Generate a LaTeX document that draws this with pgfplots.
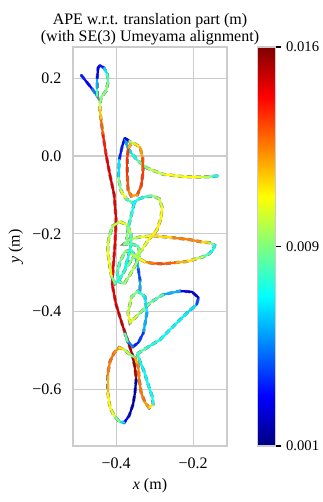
\documentclass[border=0pt]{standalone}
\usepackage{fontspec}
\setmainfont{Liberation Serif}
\usepackage{pgfplots}
\usepackage{pgfplotstable}
\pgfplotsset{compat=1.18}

% trajectory pieces: x, y (m) and APE (m)
\pgfplotstableread{
x y c
-0.491 0.208 0.00325
-0.478 0.192 0.0028
-0.462 0.172 0.00475
-0.449 0.154 0.00775
-0.449 0.174 0.0055
-0.449 0.200 0.0028
-0.447 0.226 0.0025
-0.442 0.233 0.00325
-0.431 0.226 0.00625
-0.423 0.210 0.00775
-0.421 0.190 0.0085
-0.426 0.167 0.0085
-0.439 0.151 0.0085
-0.442 0.133 0.0100
-0.442 0.118 0.0112
-0.439 0.092 0.0127
-0.434 0.054 0.01375
-0.426 0.003 0.0145
-0.416 -0.049 0.0148
-0.405 -0.100 0.0145
-0.400 -0.164 0.0142
-0.403 -0.228 0.0145
-0.408 -0.292 0.0142
-0.410 -0.331 0.0145
-0.400 -0.382 0.0148
-0.384 -0.433 0.0150
-0.369 -0.477 0.01525
-0.358 -0.510 0.0156
-0.351 -0.544 0.01525
-0.348 -0.574 0.00175
-0.351 -0.608 0.0015
-0.356 -0.638 0.00175
-0.366 -0.667 0.0028
-0.379 -0.685 0.00625
-0.392 -0.682 0.0085
-0.405 -0.667 0.0100
-0.416 -0.646 0.0105
-0.422 -0.605 0.0115
-0.422 -0.562 0.01225
-0.416 -0.528 0.01255
-0.405 -0.505 0.01195
-0.392 -0.492 0.01075
-0.379 -0.497 0.00925
-0.364 -0.510 0.0085
-0.351 -0.518 0.0115
-0.343 -0.536 0.01225
-0.340 -0.574 0.0124
-0.335 -0.608 0.0124
-0.325 -0.633 0.0118
-0.314 -0.647 0.01075
-0.304 -0.638 0.0070
-0.306 -0.618 0.0067
-0.317 -0.587 0.0067
-0.327 -0.554 0.00655
-0.338 -0.528 0.0070
-0.345 -0.508 0.00775
}\segA

\pgfplotstableread{
x y c
-0.345 -0.508 0.00775
-0.319 -0.492 0.0070
-0.286 -0.472 0.0067
-0.252 -0.438 0.00655
-0.216 -0.403 0.00625
-0.191 -0.382 0.0040
-0.186 -0.364 0.0022
-0.203 -0.349 0.0025
-0.234 -0.347 0.0055
-0.278 -0.356 0.00775
-0.312 -0.377 0.0085
-0.345 -0.410 0.0097
-0.364 -0.428 0.0100
-0.369 -0.403 0.00925
-0.360 -0.362 0.0085
-0.343 -0.347 0.0073
-0.325 -0.362 0.00625
-0.320 -0.403 0.0055
-0.329 -0.454 0.0037
-0.342 -0.479 0.00325
-0.356 -0.490 0.00475
-0.370 -0.477 0.00775
-0.377 -0.456 0.0100
}\segB

\pgfplotstableread{
x y c
-0.338 -0.346 0.0055
-0.338 -0.318 0.0040
-0.343 -0.287 0.0055
-0.348 -0.262 0.0070
-0.361 -0.241 0.0085
-0.377 -0.246 0.0085
-0.390 -0.272 0.00775
-0.397 -0.300 0.0073
-0.392 -0.323 0.0082
-0.379 -0.328 0.0088
-0.364 -0.305 0.00925
-0.348 -0.277 0.0088
-0.338 -0.251 0.0085
-0.343 -0.231 0.00775
-0.361 -0.226 0.0082
-0.379 -0.226 0.0085
-0.364 -0.214 0.00925
-0.338 -0.208 0.0100
-0.304 -0.205 0.0109
-0.252 -0.210 0.01225
-0.208 -0.215 0.0121
-0.177 -0.221 0.0109
-0.156 -0.223 0.0085
-0.144 -0.229 0.0067
-0.148 -0.241 0.0067
-0.158 -0.251 0.00775
-0.174 -0.259 0.00925
-0.195 -0.265 0.01075
-0.216 -0.271 0.0115
-0.247 -0.274 0.0127
-0.278 -0.277 0.0130
-0.304 -0.276 0.01225
-0.325 -0.272 0.0103
-0.343 -0.262 0.00925
-0.361 -0.251 0.0085
}\segC

\pgfplotstableread{
x y c
-0.377 0.046 0.0025
-0.384 0.026 0.00325
-0.392 -0.010 0.00625
-0.394 -0.056 0.0085
-0.387 -0.090 0.0100
-0.374 -0.110 0.00775
-0.356 -0.121 0.0067
-0.340 -0.110 0.0070
-0.322 -0.104 0.00775
-0.304 -0.103 0.0088
-0.288 -0.110 0.0097
-0.281 -0.131 0.0103
-0.283 -0.159 0.0106
-0.294 -0.190 0.0106
-0.316 -0.215 0.0100
-0.333 -0.241 0.00925
-0.356 -0.262 0.0085
-0.374 -0.287 0.0073
-0.390 -0.315 0.0070
-0.403 -0.328 0.0082
-0.412 -0.308 0.0100
-0.418 -0.274 0.0103
-0.422 -0.241 0.0097
-0.419 -0.208 0.0088
-0.408 -0.179 0.00925
-0.390 -0.169 0.0100
-0.371 -0.177 0.00925
-0.361 -0.200 0.00775
-0.362 -0.231 0.0070
-0.369 -0.262 0.0067
-0.377 -0.287 0.0070
}\segD

\pgfplotstableread{
x y c
-0.353 -0.121 0.0067
-0.359 -0.146 0.0073
-0.368 -0.182 0.0085
-0.373 -0.215 0.0082
}\segE

\pgfplotstableread{
x y c
-0.135 -0.051 0.0070
-0.156 -0.053 0.00925
-0.182 -0.054 0.0103
-0.226 -0.053 0.0103
-0.278 -0.047 0.0094
-0.320 -0.031 0.0082
-0.346 -0.010 0.0070
-0.361 0.008 0.00625
-0.371 0.023 0.0055
-0.377 0.046 0.0025
-0.366 0.038 0.00925
-0.351 0.031 0.01075
-0.338 0.023 0.0118
-0.331 -0.005 0.0130
-0.330 -0.041 0.0133
-0.335 -0.077 0.0130
-0.345 -0.100 0.0118
-0.361 -0.103 0.01225
-0.369 -0.087 0.0130
-0.371 -0.049 0.01345
-0.371 -0.005 0.0133
-0.368 0.021 0.0115
-0.361 0.031 0.0100
}\segF

\pgfplotsset{
  ref/.style={color=gray, line width=2.4pt, dash pattern=on 4pt off 2.5pt},
  est/.style={mesh, shader=flat corner, point meta=explicit, line width=1.7pt,
    line cap=round, line join=round},
}

\begin{document}
\begin{tikzpicture}
\begin{axis}[name=main, scale only axis, width=115.5pt, height=299.25pt,
  xmin=-0.512, xmax=-0.112, ymin=-0.745, ymax=0.28,
  xtick={-0.4,-0.2}, xticklabels={−0.4,−0.2},
  ytick={-0.6,-0.4,-0.2,0,0.2}, yticklabels={−0.6,−0.4,−0.2,0.0,0.2},
  major tick length=0pt,
  tick label style={font=\fontsize{12}{14}\selectfont},
  xticklabel style={yshift=-5.5pt},
  yticklabel style={xshift=-5.25pt},
  grid=major, major grid style={draw=black!20, line width=0.8pt},
  axis line style={draw=black!20, line width=0.9pt},
  xlabel={\textit{x} (m)}, ylabel={\textit{y} (m)},
  label style={font=\fontsize{12}{14}\selectfont},
  every axis title/.style={at={(0.5,1)}, anchor=south, yshift=-2pt,
    align=center, font=\fontsize{12}{13}\selectfont},
  title={APE w.r.t. translation part (m)\\(with SE(3) Umeyama alignment)},
  colormap/jet, point meta min=0.001, point meta max=0.016,
  colorbar,
  colorbar style={
    at={(parent axis.north east)}, anchor=north west, xshift=14.25pt,
    width=13.5pt, scaled y ticks=false,
    ytick={0.001,0.0085,0.016}, yticklabels={0.001,0.009,0.016},
    yticklabel style={font=\fontsize{11}{13}\selectfont},
    major tick length=4.5pt, tick align=outside, ytick pos=right,
    tick style={black, line width=0.8pt},
    axis line style={draw=black!20, line width=0.8pt},
  },
]
\addplot[ref] table[x=x,y=y] {\segA};
\addplot[ref] table[x=x,y=y] {\segB};
\addplot[ref] table[x=x,y=y] {\segC};
\addplot[ref] table[x=x,y=y] {\segD};
\addplot[ref] table[x=x,y=y] {\segE};
\addplot[ref] table[x=x,y=y] {\segF};
\addplot[est] table[x=x,y=y,meta=c] {\segA};
\addplot[est] table[x=x,y=y,meta=c] {\segB};
\addplot[est] table[x=x,y=y,meta=c] {\segC};
\addplot[est] table[x=x,y=y,meta=c] {\segD};
\addplot[est] table[x=x,y=y,meta=c] {\segE};
\addplot[est] table[x=x,y=y,meta=c] {\segF};
\end{axis}
\pgfresetboundingbox
\path (main.south west) ++(-54.75pt,-42pt) rectangle ++(241.5pt,376.5pt);
\end{tikzpicture}
\end{document}
